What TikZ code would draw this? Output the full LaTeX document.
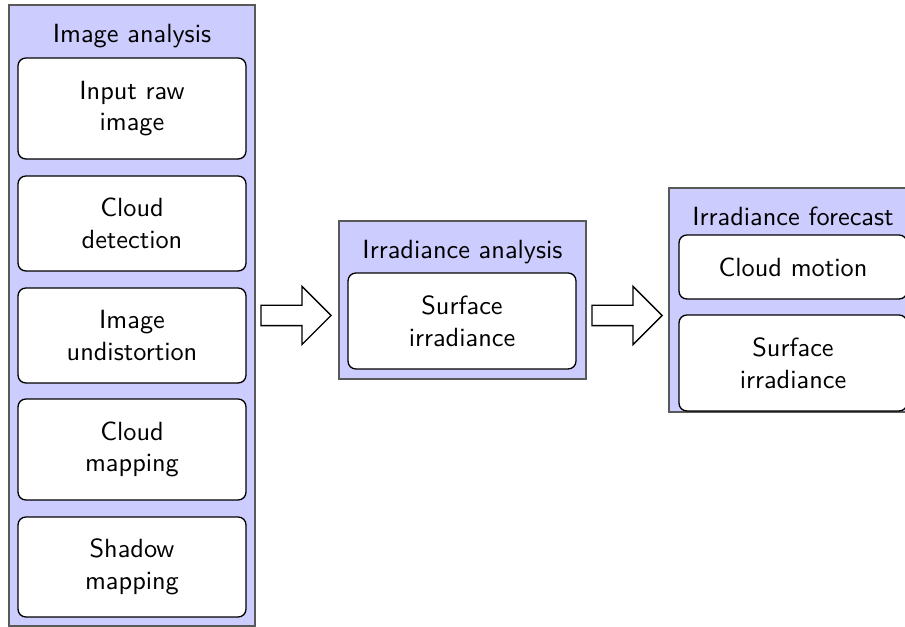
\documentclass[tikz,border=0pt]{standalone}
\usetikzlibrary{fit,shapes.arrows}
\begin{document}
\begin{tikzpicture}[x=0.38pt,y=-0.38pt,
  font=\sffamily,
  group/.style={draw=black!65,fill=blue!20,line width=0.5pt,inner sep=0pt,rectangle},
  inbox/.style={draw=black,fill=white,rounded corners=3pt,line width=0.5pt,inner sep=0pt},
  boxtext/.style={align=center,inner sep=0pt},
  grouptitle/.style={anchor=base,inner sep=0pt},
  bigarrow/.style={shape=single arrow,draw=black,fill=white,line width=0.5pt,inner xsep=0pt,inner ysep=3.61pt,
    minimum height=26.6pt,single arrow head extend=7.22pt,anchor=tip}]
\clip (0,0) rectangle (905,627);
% Image analysis
\node[group,fit={(9,5) (255,626)}] (ia) {};
\node[grouptitle] (iat) at (132,43) {Image analysis};
\node[inbox,fit={(18,58) (246,159)}] (b1) {};
\node[boxtext] (b1t) at (b1.center) {Input raw\\image};
\node[inbox,fit={(18,176) (246,271)}] (b2) {};
\node[boxtext] (b2t) at (b2.center) {Cloud\\detection};
\node[inbox,fit={(18,288) (246,383)}] (b3) {};
\node[boxtext] (b3t) at (b3.center) {Image\\undistortion};
\node[inbox,fit={(18,399) (246,500)}] (b4) {};
\node[boxtext] (b4t) at (b4.center) {Cloud\\mapping};
\node[inbox,fit={(18,517) (246,617)}] (b5) {};
\node[boxtext] (b5t) at (b5.center) {Shadow\\mapping};
% Irradiance analysis
\node[group,fit={(339,221) (586,379)}] (ra) {};
\node[grouptitle] (rat) at (462.5,259) {Irradiance analysis};
\node[inbox,fit={(348,273) (576,369)}] (c1) {};
\node[boxtext] (c1t) at (c1.center) {Surface\\irradiance};
% Irradiance forecast
\node[group,fit={(669,188) (917,412)}] (rf) {};
\node[grouptitle] (rft) at (793,226) {Irradiance forecast};
\node[inbox,fit={(679,235) (907,299)}] (d1) {};
\node[boxtext] (d1t) at (d1.center) {Cloud motion};
\node[inbox,fit={(679,315) (907,411)}] (d2) {};
\node[boxtext] (d2t) at (d2.center) {Surface\\irradiance};
% arrows
\node[bigarrow] (a1) at (332,315.5) {};
\node[bigarrow] (a2) at (663,315.5) {};
\end{tikzpicture}
\end{document}
